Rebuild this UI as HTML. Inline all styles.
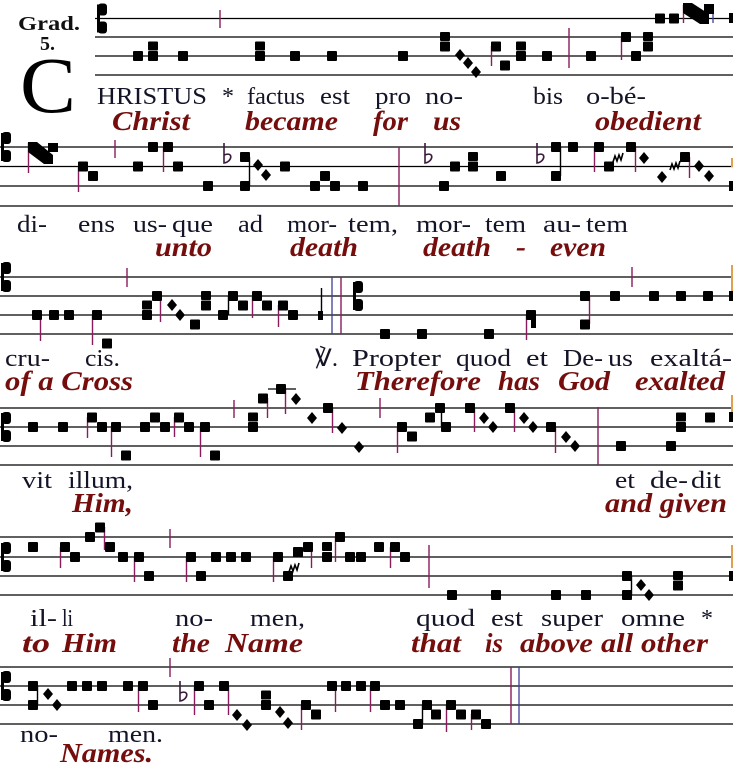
<!DOCTYPE html>
<html><head><meta charset="utf-8"><style>
html,body{margin:0;padding:0;background:#fff;}
svg{display:block;}
.la{font-family:"Liberation Serif","DejaVu Serif",serif;font-size:24px;fill:#141428;}
.en{font-family:"Liberation Serif","DejaVu Serif",serif;font-size:27px;font-weight:bold;font-style:italic;fill:#760d0d;}
</style></head><body>
<svg width="733" height="768" viewBox="0 0 733 768" xmlns="http://www.w3.org/2000/svg">
<rect width="733" height="768" fill="#fff"/>
<!-- staff lines -->
<g stroke="#000" stroke-width="1.3">
<line x1="95" y1="18.5" x2="733" y2="18.5"/><line x1="95" y1="37" x2="733" y2="37"/><line x1="95" y1="56" x2="733" y2="56"/><line x1="95" y1="75" x2="733" y2="75"/>
<line x1="0" y1="147" x2="733" y2="147"/><line x1="0" y1="166.5" x2="733" y2="166.5"/><line x1="0" y1="186" x2="733" y2="186"/><line x1="0" y1="206" x2="733" y2="206"/>
<line x1="0" y1="277" x2="733" y2="277"/><line x1="0" y1="296" x2="733" y2="296"/><line x1="0" y1="315" x2="733" y2="315"/><line x1="0" y1="334" x2="733" y2="334"/>
<line x1="0" y1="408" x2="733" y2="408"/><line x1="0" y1="427" x2="733" y2="427"/><line x1="0" y1="446" x2="733" y2="446"/><line x1="0" y1="465" x2="733" y2="465"/>
<line x1="0" y1="537" x2="733" y2="537"/><line x1="0" y1="557" x2="733" y2="557"/><line x1="0" y1="576" x2="733" y2="576"/><line x1="0" y1="595" x2="733" y2="595"/>
<line x1="0" y1="667" x2="733" y2="667"/><line x1="0" y1="686" x2="733" y2="686"/><line x1="0" y1="705" x2="733" y2="705"/><line x1="0" y1="724" x2="733" y2="724"/>
<line x1="268" y1="389" x2="296" y2="389"/>
</g>
<!-- clefs -->
<g fill="#000">
<rect x="98" y="3.5" width="9" height="12" rx="3"/><rect x="98" y="21.5" width="9" height="12" rx="3"/><rect x="97" y="4.5" width="3" height="28"/>
<rect x="2" y="132" width="9" height="12" rx="3"/><rect x="2" y="150" width="9" height="12" rx="3"/><rect x="1" y="133" width="3" height="28"/>
<rect x="2" y="262" width="9" height="12" rx="3"/><rect x="2" y="280" width="9" height="12" rx="3"/><rect x="1" y="263" width="3" height="28"/>
<rect x="354" y="281" width="9" height="12" rx="3"/><rect x="354" y="299" width="9" height="12" rx="3"/><rect x="353" y="282" width="3" height="28"/>
<rect x="2" y="412" width="9" height="12" rx="3"/><rect x="2" y="430" width="9" height="12" rx="3"/><rect x="1" y="413" width="3" height="28"/>
<rect x="2" y="542" width="9" height="12" rx="3"/><rect x="2" y="560" width="9" height="12" rx="3"/><rect x="1" y="543" width="3" height="28"/>
<rect x="2" y="671" width="9" height="12" rx="3"/><rect x="2" y="689" width="9" height="12" rx="3"/><rect x="1" y="672" width="3" height="28"/>
</g>
<!-- stems & bars -->
<g stroke="#8a1c5e" stroke-width="1.4">
<line x1="220" y1="10" x2="220" y2="28"/><line x1="569" y1="28" x2="569" y2="68"/>
<line x1="491.5" y1="46" x2="491.5" y2="66"/><line x1="621.5" y1="37" x2="621.5" y2="60"/><line x1="683.5" y1="5" x2="683.5" y2="23"/>
<line x1="28.5" y1="143" x2="28.5" y2="173"/><line x1="78.5" y1="166" x2="78.5" y2="192"/><line x1="163.5" y1="147" x2="163.5" y2="172"/><line x1="594.5" y1="147" x2="594.5" y2="172"/><line x1="635.5" y1="147" x2="635.5" y2="172"/><line x1="689.5" y1="157" x2="689.5" y2="178"/>
<line x1="115" y1="140" x2="115" y2="158"/><line x1="399" y1="147" x2="399" y2="206"/>
<line x1="40.5" y1="315" x2="40.5" y2="341"/><line x1="92.5" y1="315" x2="92.5" y2="345"/><line x1="160.5" y1="296" x2="160.5" y2="322"/><line x1="252.5" y1="296" x2="252.5" y2="318"/><line x1="278.5" y1="305" x2="278.5" y2="327"/><line x1="526.5" y1="315" x2="526.5" y2="340"/><line x1="589.5" y1="296" x2="589.5" y2="324"/>
<line x1="127" y1="268" x2="127" y2="287"/><line x1="341" y1="277" x2="341" y2="334"/><line x1="632" y1="267" x2="632" y2="287"/>
<line x1="87.5" y1="417" x2="87.5" y2="438"/><line x1="111.5" y1="427" x2="111.5" y2="457"/><line x1="174.5" y1="417" x2="174.5" y2="437"/><line x1="200.5" y1="427" x2="200.5" y2="457"/><line x1="267.5" y1="398" x2="267.5" y2="418"/><line x1="285.5" y1="389" x2="285.5" y2="414"/><line x1="332.5" y1="408" x2="332.5" y2="433"/><line x1="397.5" y1="427" x2="397.5" y2="453"/><line x1="474.5" y1="408" x2="474.5" y2="432"/><line x1="514.5" y1="408" x2="514.5" y2="432"/><line x1="555.5" y1="427" x2="555.5" y2="453"/>
<line x1="234" y1="400" x2="234" y2="418"/><line x1="380" y1="398" x2="380" y2="418"/><line x1="598" y1="407" x2="598" y2="465"/>
<line x1="60.5" y1="547" x2="60.5" y2="568"/><line x1="104.5" y1="527" x2="104.5" y2="550"/><line x1="134.5" y1="557" x2="134.5" y2="582"/><line x1="186.5" y1="557" x2="186.5" y2="582"/><line x1="273.5" y1="557" x2="273.5" y2="582"/><line x1="311.5" y1="547" x2="311.5" y2="568"/><line x1="335.5" y1="537" x2="335.5" y2="562"/><line x1="390.5" y1="547" x2="390.5" y2="568"/>
<line x1="170" y1="529" x2="170" y2="548"/><line x1="429" y1="545" x2="429" y2="588"/>
<line x1="138.5" y1="686" x2="138.5" y2="712"/><line x1="194.5" y1="686" x2="194.5" y2="715"/><line x1="228.5" y1="686" x2="228.5" y2="715"/><line x1="301.5" y1="705" x2="301.5" y2="730"/><line x1="335.5" y1="686" x2="335.5" y2="712"/><line x1="370.5" y1="686" x2="370.5" y2="712"/><line x1="446.5" y1="705" x2="446.5" y2="732"/><line x1="471.5" y1="714" x2="471.5" y2="730"/>
<line x1="170" y1="658" x2="170" y2="677"/><line x1="511" y1="667" x2="511" y2="724"/>
</g>
<g stroke="#3b3f9a" stroke-width="1.3">
<line x1="332" y1="277" x2="332" y2="334"/><line x1="519" y1="667" x2="519" y2="724"/><line x1="713" y1="5" x2="713" y2="23"/>
</g>
<g stroke="#000" stroke-width="1.4">
<line x1="249.5" y1="157" x2="249.5" y2="186"/><line x1="560.5" y1="147" x2="560.5" y2="176"/>
<line x1="228.5" y1="296" x2="228.5" y2="315"/><line x1="321.5" y1="288" x2="321.5" y2="313"/>
<line x1="441.5" y1="408" x2="441.5" y2="427"/>
<line x1="631.5" y1="576" x2="631.5" y2="595"/>
<line x1="37.5" y1="686" x2="37.5" y2="705"/><line x1="422.5" y1="705" x2="422.5" y2="724"/>
</g>
<!-- orange edge marks -->
<g stroke="#e0a050" stroke-width="2">
<line x1="732" y1="158" x2="732" y2="167"/><line x1="732" y1="265" x2="732" y2="292"/><line x1="732" y1="395" x2="732" y2="412"/><line x1="732" y1="545" x2="732" y2="568"/>
</g>
<!-- flats -->
<g stroke="#3a1a3a" stroke-width="1.6" fill="none">
<path d="M224,143 L224,163 C232,162 234,151 224,155"/>
<path d="M425,143 L425,163 C433,162 435,151 425,155"/>
<path d="M537,143 L537,163 C545,162 547,151 537,155"/>
<path d="M180,681 L180,701 C188,700 190,689 180,693"/>
</g>
<!-- quilismas -->
<g stroke="#000" stroke-width="1.6" fill="none">
<polyline points="613,162 615,156 617,161 619,155 621,160 623,153"/>
<polyline points="670,170 672,164 674,169 676,163 678,168 680,161"/>
<polyline points="289,572 291,566 293,571 295,565 297,570 299,563"/>
</g>
<!-- porrectus -->
<g fill="#000">
<polygon points="683,3 692,3 709,14 709,24 700,24 683,13"/><rect x="704" y="4" width="10" height="10"/>
<polygon points="28,142 37,142 53,155 53,164 44,164 28,152"/><rect x="48" y="143" width="10" height="9"/>
</g>
<!-- diamonds -->
<g fill="#000">
<polygon points="460,49 465,55 460,61 455,55"/><polygon points="468,57 473,63 468,69 463,63"/><polygon points="476,66 481,72 476,78 471,72"/>
<polygon points="258,159 263,165 258,171 253,165"/><polygon points="266,169 271,175 266,181 261,175"/>
<polygon points="644,152 649,158 644,164 639,158"/><polygon points="662,171 667,177 662,183 657,177"/>
<polygon points="699,160 704,166 699,172 694,166"/><polygon points="709,170 714,176 709,182 704,176"/>
<polygon points="172,299 177,305 172,311 167,305"/><polygon points="180,309 185,315 180,321 175,315"/>
<polygon points="296,393 301,399 296,405 291,399"/><polygon points="312,412 317,418 312,424 307,418"/><polygon points="342,422 347,428 342,434 337,428"/><polygon points="359,441 364,447 359,453 354,447"/>
<polygon points="484,412 489,418 484,424 479,418"/><polygon points="493,421 498,427 493,433 488,427"/>
<polygon points="524,412 529,418 524,424 519,418"/><polygon points="533,421 538,427 533,433 528,427"/>
<polygon points="566,431 571,437 566,443 561,437"/><polygon points="575,440 580,446 575,452 570,446"/>
<polygon points="641,579 646,585 641,591 636,585"/><polygon points="649,589 654,595 649,601 644,595"/>
<polygon points="48,688 53,694 48,700 43,694"/><polygon points="57,699 62,705 57,711 52,705"/>
<polygon points="237,709 242,715 237,721 232,715"/><polygon points="247,719 252,725 247,731 242,725"/>
<polygon points="280,706 285,712 280,718 275,712"/><polygon points="288,717 293,723 288,729 283,723"/>
</g>
<!-- notes -->
<g fill="#000">
<rect x="133" y="51" width="10" height="10" rx="1"/><rect x="148" y="41.5" width="10" height="9" rx="1"/><rect x="148" y="51" width="10" height="10" rx="1"/><rect x="178" y="51" width="10" height="10" rx="1"/><rect x="255" y="41.5" width="10" height="9" rx="1"/><rect x="255" y="51" width="10" height="10" rx="1"/><rect x="290" y="51" width="10" height="10" rx="1"/><rect x="327" y="51" width="10" height="10" rx="1"/><rect x="398" y="51" width="10" height="10" rx="1"/><rect x="440" y="32" width="10" height="9" rx="1"/><rect x="440" y="41.5" width="10" height="10" rx="1"/><rect x="491" y="41.5" width="10" height="10" rx="1"/><rect x="500" y="60.5" width="10" height="10" rx="1"/><rect x="516" y="41.5" width="10" height="9" rx="1"/><rect x="516" y="51" width="10" height="10" rx="1"/><rect x="542" y="51" width="10" height="10" rx="1"/><rect x="586" y="51" width="10" height="10" rx="1"/><rect x="621" y="32" width="10" height="10" rx="1"/><rect x="631" y="51" width="10" height="10" rx="1"/><rect x="643" y="32" width="10" height="9" rx="1"/><rect x="643" y="41.5" width="10" height="10" rx="1"/><rect x="655" y="13.5" width="10" height="10" rx="1"/><rect x="669" y="13.5" width="10" height="10" rx="1"/><rect x="729" y="13" width="4" height="10"/>

<rect x="78" y="161.5" width="10" height="10" rx="1"/><rect x="88" y="171" width="10" height="10" rx="1"/><rect x="133" y="161.5" width="10" height="10" rx="1"/><rect x="148" y="142" width="10" height="10" rx="1"/><rect x="163" y="142" width="10" height="10" rx="1"/><rect x="173" y="161.5" width="10" height="10" rx="1"/><rect x="203" y="181" width="10" height="10" rx="1"/><rect x="240" y="152" width="10" height="10" rx="1"/><rect x="240" y="181" width="10" height="10" rx="1"/><rect x="280" y="161.5" width="10" height="10" rx="1"/><rect x="310" y="181" width="10" height="10" rx="1"/><rect x="320" y="171" width="10" height="10" rx="1"/><rect x="330" y="181" width="10" height="10" rx="1"/><rect x="358" y="181" width="10" height="10" rx="1"/><rect x="439" y="181" width="10" height="10" rx="1"/><rect x="450" y="161.5" width="10" height="10" rx="1"/><rect x="468" y="152" width="10" height="9" rx="1"/><rect x="468" y="161.5" width="10" height="10" rx="1"/><rect x="496" y="171" width="10" height="10" rx="1"/><rect x="551" y="142" width="10" height="10" rx="1"/><rect x="551" y="171" width="10" height="10" rx="1"/><rect x="568" y="142" width="10" height="10" rx="1"/><rect x="594" y="142" width="10" height="10" rx="1"/><rect x="604" y="161.5" width="10" height="10" rx="1"/><rect x="626" y="142" width="10" height="10" rx="1"/><rect x="680" y="152" width="10" height="10" rx="1"/><rect x="729" y="181" width="4" height="10"/>

<rect x="32" y="310" width="10" height="10" rx="1"/><rect x="49" y="310" width="10" height="10" rx="1"/><rect x="64" y="310" width="10" height="10" rx="1"/><rect x="92" y="310" width="10" height="10" rx="1"/><rect x="102" y="338.5" width="10" height="10" rx="1"/><rect x="142" y="300.5" width="10" height="9" rx="1"/><rect x="142" y="310" width="10" height="10" rx="1"/><rect x="152" y="291" width="10" height="10" rx="1"/><rect x="190" y="319.5" width="10" height="10" rx="1"/><rect x="201" y="291" width="10" height="9" rx="1"/><rect x="201" y="300.5" width="10" height="10" rx="1"/><rect x="218" y="310" width="10" height="10" rx="1"/><rect x="228" y="291" width="10" height="10" rx="1"/><rect x="238" y="300.5" width="10" height="10" rx="1"/><rect x="252" y="291" width="10" height="10" rx="1"/><rect x="262" y="300.5" width="10" height="10" rx="1"/><rect x="278" y="300.5" width="10" height="10" rx="1"/><rect x="288" y="310" width="10" height="10" rx="1"/><rect x="318" y="311" width="5" height="9"/><rect x="380" y="329" width="10" height="10" rx="1"/><rect x="417" y="329" width="10" height="10" rx="1"/><rect x="484" y="329" width="10" height="10" rx="1"/><rect x="526" y="310" width="10" height="10" rx="1"/><rect x="531" y="318" width="5" height="10"/><rect x="580" y="291" width="10" height="10" rx="1"/><rect x="580" y="319.5" width="10" height="10" rx="1"/><rect x="610" y="291" width="10" height="10" rx="1"/><rect x="649" y="291" width="10" height="10" rx="1"/><rect x="676" y="291" width="10" height="10" rx="1"/><rect x="703" y="291" width="10" height="10" rx="1"/><rect x="729" y="291" width="4" height="10"/>

<rect x="28" y="422" width="10" height="10" rx="1"/><rect x="58" y="422" width="10" height="10" rx="1"/><rect x="87" y="412.5" width="10" height="10" rx="1"/><rect x="97" y="422" width="10" height="10" rx="1"/><rect x="111" y="422" width="10" height="10" rx="1"/><rect x="121" y="450.5" width="10" height="10" rx="1"/><rect x="140" y="422" width="10" height="10" rx="1"/><rect x="150" y="412.5" width="10" height="10" rx="1"/><rect x="160" y="422" width="10" height="10" rx="1"/><rect x="174" y="412.5" width="10" height="10" rx="1"/><rect x="184" y="422" width="10" height="10" rx="1"/><rect x="200" y="422" width="10" height="10" rx="1"/><rect x="210" y="450.5" width="10" height="10" rx="1"/><rect x="248" y="412.5" width="10" height="9" rx="1"/><rect x="248" y="422" width="10" height="10" rx="1"/><rect x="258" y="393.5" width="10" height="10" rx="1"/><rect x="276" y="384" width="10" height="10" rx="1"/><rect x="323" y="403" width="10" height="10" rx="1"/><rect x="397" y="422" width="10" height="10" rx="1"/><rect x="407" y="431.5" width="10" height="10" rx="1"/><rect x="425" y="412.5" width="10" height="10" rx="1"/><rect x="435" y="403" width="10" height="10" rx="1"/><rect x="441" y="422" width="10" height="10" rx="1"/><rect x="465" y="403" width="10" height="10" rx="1"/><rect x="505" y="403" width="10" height="10" rx="1"/><rect x="546" y="422" width="10" height="10" rx="1"/><rect x="616" y="441" width="10" height="10" rx="1"/><rect x="666" y="441" width="10" height="10" rx="1"/><rect x="676" y="412.5" width="10" height="9" rx="1"/><rect x="676" y="422" width="10" height="10" rx="1"/><rect x="705" y="412.5" width="10" height="10" rx="1"/><rect x="729" y="412" width="4" height="10"/>

<rect x="28" y="542" width="10" height="10" rx="1"/><rect x="60" y="542" width="10" height="10" rx="1"/><rect x="70" y="552" width="10" height="10" rx="1"/><rect x="85" y="532" width="10" height="10" rx="1"/><rect x="95" y="522.5" width="10" height="10" rx="1"/><rect x="105" y="542" width="10" height="10" rx="1"/><rect x="118" y="552" width="10" height="10" rx="1"/><rect x="134" y="552" width="10" height="10" rx="1"/><rect x="144" y="571" width="10" height="10" rx="1"/><rect x="186" y="552" width="10" height="10" rx="1"/><rect x="196" y="571" width="10" height="10" rx="1"/><rect x="211" y="552" width="10" height="10" rx="1"/><rect x="226" y="552" width="10" height="10" rx="1"/><rect x="241" y="552" width="10" height="10" rx="1"/><rect x="273" y="552" width="10" height="10" rx="1"/><rect x="283" y="571" width="10" height="10" rx="1"/><rect x="293" y="547" width="10" height="10" rx="1"/><rect x="303" y="542" width="10" height="10" rx="1"/><rect x="322" y="542" width="10" height="9" rx="1"/><rect x="322" y="552" width="10" height="10" rx="1"/><rect x="335" y="532" width="10" height="10" rx="1"/><rect x="345" y="552" width="10" height="10" rx="1"/><rect x="356" y="552" width="10" height="10" rx="1"/><rect x="374" y="542" width="10" height="10" rx="1"/><rect x="390" y="542" width="10" height="10" rx="1"/><rect x="400" y="552" width="10" height="10" rx="1"/><rect x="447" y="590" width="10" height="10" rx="1"/><rect x="491" y="590" width="10" height="10" rx="1"/><rect x="551" y="590" width="10" height="10" rx="1"/><rect x="581" y="590" width="10" height="10" rx="1"/><rect x="622" y="571" width="10" height="10" rx="1"/><rect x="622" y="590" width="10" height="10" rx="1"/><rect x="673" y="571" width="10" height="9" rx="1"/><rect x="673" y="580.5" width="10" height="10" rx="1"/><rect x="729" y="571" width="4" height="10"/>

<rect x="28" y="681" width="10" height="10" rx="1"/><rect x="28" y="700" width="10" height="10" rx="1"/><rect x="67" y="681" width="10" height="10" rx="1"/><rect x="82" y="681" width="10" height="10" rx="1"/><rect x="97" y="681" width="10" height="10" rx="1"/><rect x="123" y="681" width="10" height="10" rx="1"/><rect x="138" y="681" width="10" height="10" rx="1"/><rect x="148" y="700" width="10" height="10" rx="1"/><rect x="194" y="681" width="10" height="10" rx="1"/><rect x="204" y="700" width="10" height="10" rx="1"/><rect x="219" y="681" width="10" height="10" rx="1"/><rect x="261" y="690.5" width="10" height="9" rx="1"/><rect x="261" y="700" width="10" height="10" rx="1"/><rect x="301" y="700" width="10" height="10" rx="1"/><rect x="311" y="709.5" width="10" height="10" rx="1"/><rect x="327" y="681" width="10" height="10" rx="1"/><rect x="341" y="681" width="10" height="10" rx="1"/><rect x="356" y="681" width="10" height="10" rx="1"/><rect x="370" y="681" width="10" height="10" rx="1"/><rect x="380" y="700" width="10" height="10" rx="1"/><rect x="395" y="700" width="10" height="10" rx="1"/><rect x="413" y="719" width="10" height="10" rx="1"/><rect x="422" y="700" width="10" height="10" rx="1"/><rect x="431" y="709.5" width="10" height="10" rx="1"/><rect x="446" y="700" width="10" height="10" rx="1"/><rect x="456" y="709.5" width="10" height="10" rx="1"/><rect x="471" y="709.5" width="10" height="10" rx="1"/><rect x="481" y="719" width="10" height="10" rx="1"/>
</g>

<!-- header -->
<text x="18" y="30" font-family="Liberation Serif, serif" font-weight="bold" font-size="20" fill="#111" textLength="62" lengthAdjust="spacingAndGlyphs">Grad.</text>
<text x="40" y="50" font-family="Liberation Serif, serif" font-weight="bold" font-size="20" fill="#111">5.</text>
<text x="20" y="112" font-family="Liberation Serif, serif" font-size="79" fill="#000" textLength="56" lengthAdjust="spacingAndGlyphs">C</text>

<!-- Latin text -->
<g class="la">
<text x="97" y="104" textLength="110" lengthAdjust="spacingAndGlyphs">HRISTUS</text>
<text x="222" y="104">*</text>
<text x="247" y="104" textLength="58" lengthAdjust="spacingAndGlyphs">factus</text>
<text x="320" y="104" textLength="30" lengthAdjust="spacingAndGlyphs">est</text>
<text x="375" y="104" textLength="36" lengthAdjust="spacingAndGlyphs">pro</text>
<text x="425" y="104" textLength="38" lengthAdjust="spacingAndGlyphs">no-</text>
<text x="533" y="104" textLength="30" lengthAdjust="spacingAndGlyphs">bis</text>
<text x="586" y="104" textLength="60" lengthAdjust="spacingAndGlyphs">o-bé-</text>

<text x="17" y="232" textLength="30" lengthAdjust="spacingAndGlyphs">di-</text>
<text x="78" y="232" textLength="37" lengthAdjust="spacingAndGlyphs">ens</text>
<text x="133" y="232" textLength="34" lengthAdjust="spacingAndGlyphs">us-</text>
<text x="172" y="232" textLength="41" lengthAdjust="spacingAndGlyphs">que</text>
<text x="238" y="232" textLength="25" lengthAdjust="spacingAndGlyphs">ad</text>
<text x="287" y="232" textLength="50" lengthAdjust="spacingAndGlyphs">mor-</text>
<text x="348" y="232" textLength="50" lengthAdjust="spacingAndGlyphs">tem,</text>
<text x="416" y="232" textLength="55" lengthAdjust="spacingAndGlyphs">mor-</text>
<text x="485" y="232" textLength="41" lengthAdjust="spacingAndGlyphs">tem</text>
<text x="543" y="232" textLength="38" lengthAdjust="spacingAndGlyphs">au-</text>
<text x="586" y="232" textLength="42" lengthAdjust="spacingAndGlyphs">tem</text>

<text x="5" y="366" textLength="45" lengthAdjust="spacingAndGlyphs">cru-</text>
<text x="85" y="366" textLength="35" lengthAdjust="spacingAndGlyphs">cis.</text>
<text x="315" y="366" textLength="23" lengthAdjust="spacingAndGlyphs">℣.</text>
<text x="352" y="366" textLength="89" lengthAdjust="spacingAndGlyphs">Propter</text>
<text x="456" y="366" textLength="55" lengthAdjust="spacingAndGlyphs">quod</text>
<text x="526" y="366" textLength="22" lengthAdjust="spacingAndGlyphs">et</text>
<text x="563" y="366" textLength="40" lengthAdjust="spacingAndGlyphs">De-</text>
<text x="608" y="366" textLength="25" lengthAdjust="spacingAndGlyphs">us</text>
<text x="650" y="366" textLength="82" lengthAdjust="spacingAndGlyphs">exaltá-</text>

<text x="22" y="488" textLength="30" lengthAdjust="spacingAndGlyphs">vit</text>
<text x="68" y="488" textLength="65" lengthAdjust="spacingAndGlyphs">illum,</text>
<text x="615" y="488" textLength="20" lengthAdjust="spacingAndGlyphs">et</text>
<text x="650" y="488" textLength="38" lengthAdjust="spacingAndGlyphs">de-</text>
<text x="691" y="488" textLength="30" lengthAdjust="spacingAndGlyphs">dit</text>

<text x="30" y="626" textLength="27" lengthAdjust="spacingAndGlyphs">il-</text>
<text x="62" y="626" textLength="11" lengthAdjust="spacingAndGlyphs">li</text>
<text x="175" y="626" textLength="38" lengthAdjust="spacingAndGlyphs">no-</text>
<text x="250" y="626" textLength="55" lengthAdjust="spacingAndGlyphs">men,</text>
<text x="416" y="626" textLength="59" lengthAdjust="spacingAndGlyphs">quod</text>
<text x="491" y="626" textLength="32" lengthAdjust="spacingAndGlyphs">est</text>
<text x="541" y="626" textLength="62" lengthAdjust="spacingAndGlyphs">super</text>
<text x="621" y="626" textLength="64" lengthAdjust="spacingAndGlyphs">omne</text>
<text x="701" y="626">*</text>

<text x="20" y="742" textLength="38" lengthAdjust="spacingAndGlyphs">no-</text>
<text x="108" y="742" textLength="55" lengthAdjust="spacingAndGlyphs">men.</text>
</g>

<!-- English text -->
<g class="en">
<text x="112" y="130" textLength="78" lengthAdjust="spacingAndGlyphs">Christ</text>
<text x="245" y="130" textLength="93" lengthAdjust="spacingAndGlyphs">became</text>
<text x="373" y="130" textLength="35" lengthAdjust="spacingAndGlyphs">for</text>
<text x="433" y="130" textLength="28" lengthAdjust="spacingAndGlyphs">us</text>
<text x="595" y="130" textLength="106" lengthAdjust="spacingAndGlyphs">obedient</text>

<text x="155" y="256" textLength="57" lengthAdjust="spacingAndGlyphs">unto</text>
<text x="290" y="256" textLength="68" lengthAdjust="spacingAndGlyphs">death</text>
<text x="423" y="256" textLength="68" lengthAdjust="spacingAndGlyphs">death</text>
<text x="516" y="256" textLength="10" lengthAdjust="spacingAndGlyphs">-</text>
<text x="550" y="256" textLength="56" lengthAdjust="spacingAndGlyphs">even</text>

<text x="5" y="390" textLength="128" lengthAdjust="spacingAndGlyphs">of a Cross</text>
<text x="355" y="390" textLength="126" lengthAdjust="spacingAndGlyphs">Therefore</text>
<text x="498" y="390" textLength="42" lengthAdjust="spacingAndGlyphs">has</text>
<text x="558" y="390" textLength="52" lengthAdjust="spacingAndGlyphs">God</text>
<text x="635" y="390" textLength="90" lengthAdjust="spacingAndGlyphs">exalted</text>

<text x="72" y="512" textLength="61" lengthAdjust="spacingAndGlyphs">Him,</text>
<text x="605" y="512" textLength="122" lengthAdjust="spacingAndGlyphs">and given</text>

<text x="22" y="652" textLength="28" lengthAdjust="spacingAndGlyphs">to</text>
<text x="62" y="652" textLength="55" lengthAdjust="spacingAndGlyphs">Him</text>
<text x="172" y="652" textLength="38" lengthAdjust="spacingAndGlyphs">the</text>
<text x="225" y="652" textLength="78" lengthAdjust="spacingAndGlyphs">Name</text>
<text x="411" y="652" textLength="50" lengthAdjust="spacingAndGlyphs">that</text>
<text x="485" y="652" textLength="18" lengthAdjust="spacingAndGlyphs">is</text>
<text x="520" y="652" textLength="73" lengthAdjust="spacingAndGlyphs">above</text>
<text x="601" y="652" textLength="32" lengthAdjust="spacingAndGlyphs">all</text>
<text x="641" y="652" textLength="67" lengthAdjust="spacingAndGlyphs">other</text>

<text x="60" y="762" textLength="93" lengthAdjust="spacingAndGlyphs">Names.</text>
</g>
</svg>
</body></html>
